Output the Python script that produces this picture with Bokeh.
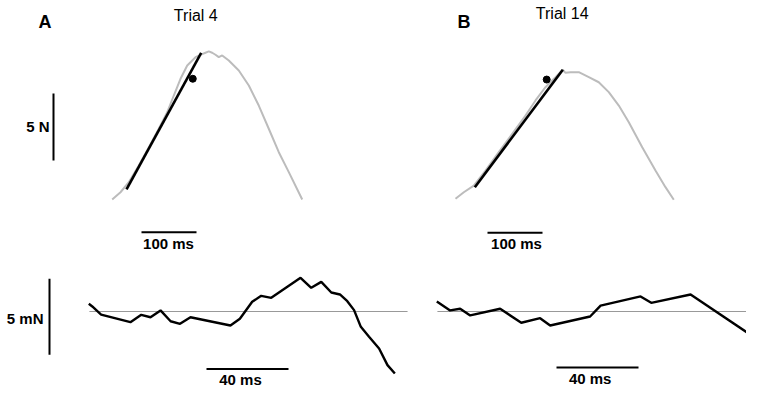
from bokeh.plotting import figure
from bokeh.models import Range1d
from bokeh.embed import file_html
from bokeh.resources import INLINE
from bokeh.core.properties import value

# ---------------- data ----------------
# Top panels: force (N) vs time (ms)
forceA_t = [0, 15.1, 30.2, 48.4, 66.5, 84.7, 100, 112, 124.2, 136.4, 151.5, 163.6, 169.6, 175.6, 181.8, 187.8,
            193.8, 200, 212, 230.2, 248.4, 266.5, 284.7, 302.9, 321.1, 345.5]
forceA_N = [0.15, 0.69, 1.44, 2.69, 4.04, 5.43, 6.66, 7.91, 9.16, 10.15, 10.77, 11.0, 11.1, 11.2, 11.1, 10.95,
            10.77, 10.9, 10.52, 9.78, 8.66, 7.16, 5.43, 3.68, 2.19, 0.15]
fitA_t = [26, 161.8]
fitA_N = [0.9, 11.1]
dotA_t = [146.5]
dotA_N = [9.16]

forceB_t = [0, 15.1, 33.3, 54.5, 78.7, 103.1, 127.3, 145.5, 163.6, 181.8, 195.1, 200, 209.1, 224.2, 242.4,
            260.5, 278.7, 296.9, 315.1, 339.5, 363.6, 381.8, 396.9]
forceB_N = [0.2, 0.69, 1.19, 2.31, 3.68, 5.05, 6.42, 7.54, 8.53, 9.28, 9.83, 9.6, 9.65, 9.65, 9.28,
            8.90, 8.16, 7.16, 5.92, 4.05, 2.31, 1.07, 0.13]
fitB_t = [35.1, 195.1]
fitB_N = [1.07, 9.83]
dotB_t = [165.8]
dotB_N = [9.1]

# Bottom panels: force deviation (mN) vs time (ms)
devA_t = [0, 1.7, 6.0, 20.3, 25.6, 30.1, 35.0, 39.9, 44.5, 49.6, 69.1, 73.7, 79.7, 84.1, 89.0, 103.3,
          108.5, 113.4, 118.3, 122.5, 126.1, 129.4, 132.7, 136.7, 141.6, 145.7, 149.3]
devA_mN = [0.51, 0.33, -0.20, -0.70, -0.22, -0.38, 0.07, -0.64, -0.81, -0.38, -0.92, -0.48, 0.64, 1.03,
           0.90, 2.22, 1.56, 1.95, 1.25, 1.12, 0.68, 0.09, -1.01, -1.66, -2.43, -3.53, -4.08]
devB_t = [0, 6.5, 11.4, 16.3, 30.9, 41.2, 50.4, 55.3, 74.8, 79.9, 99.4, 104.6, 123.8, 155.5]
devB_mN = [0.66, 0.07, 0.18, -0.26, 0.18, -0.74, -0.44, -0.92, -0.33, 0.39, 0.99, 0.57, 1.12, -1.76]
baseA_t = [0.3, 155.5]
baseB_t = [0.3, 155.5]

# scale bars
bar_force_N = 5
bar_time_top_ms = 100
bar_dev_mN = 5
bar_time_bot_ms = 40

panel_labels = ["A", "B"]
trial_titles = ["Trial 4", "Trial 14"]

# ---------------- layout (pixels) ----------------
TOP_MS = 0.55      # px per ms, top row
TOP_N = 13.4       # px per N
BOT_MS = 2.05      # px per ms, bottom row
BOT_MN = 15.2      # px per mN
TOP_Y0 = 201
BOT_Y0 = 311

def tx(t, x0, s):
    return [x0 + v * s for v in t]

def ty(f, y0, s):
    return [y0 - v * s for v in f]

p = figure(width=746, height=387, x_range=Range1d(0, 746), y_range=Range1d(387, 0),
           output_backend="svg", toolbar_location=None, min_border=0)
p.xaxis.visible = False
p.yaxis.visible = False
p.grid.visible = False
p.outline_line_color = None
p.background_fill_color = "white"

GRAY = "#bcbcbc"
# top A
p.line(tx(forceA_t, 111.7, TOP_MS), ty(forceA_N, TOP_Y0, TOP_N), line_color=GRAY, line_width=2)
p.line(tx(fitA_t, 111.7, TOP_MS), ty(fitA_N, TOP_Y0, TOP_N), line_color="black", line_width=2.6)
p.scatter(tx(dotA_t, 111.7, TOP_MS), ty(dotA_N, TOP_Y0, TOP_N), size=7, color="black")
# top B
p.line(tx(forceB_t, 455, TOP_MS), ty(forceB_N, TOP_Y0, TOP_N), line_color=GRAY, line_width=2)
p.line(tx(fitB_t, 455, TOP_MS), ty(fitB_N, TOP_Y0, TOP_N), line_color="black", line_width=2.6)
p.scatter(tx(dotB_t, 455, TOP_MS), ty(dotB_N, TOP_Y0, TOP_N), size=7, color="black")

# bottom baselines
p.line(tx(baseA_t, 88.3, BOT_MS), [BOT_Y0, BOT_Y0], line_color="#999999", line_width=1)
p.line(tx(baseB_t, 436.3, BOT_MS), [BOT_Y0, BOT_Y0], line_color="#999999", line_width=1)
# bottom traces
p.line(tx(devA_t, 88.3, BOT_MS), ty(devA_mN, BOT_Y0, BOT_MN), line_color="black", line_width=2.4)
p.line(tx(devB_t, 436.3, BOT_MS), ty(devB_mN, BOT_Y0, BOT_MN), line_color="black", line_width=2.4)

# scale bars
p.line([53, 53], [160, 160 - bar_force_N * TOP_N], line_color="black", line_width=2)
p.line([141, 141 + bar_time_top_ms * TOP_MS], [231.7, 231.7], line_color="black", line_width=2)
p.line([487, 487 + bar_time_top_ms * TOP_MS], [232.3, 232.3], line_color="black", line_width=2)
p.line([49, 49], [354.3, 354.3 - bar_dev_mN * BOT_MN], line_color="black", line_width=2)
p.line([206, 206 + bar_time_bot_ms * BOT_MS], [368.5, 368.5], line_color="black", line_width=2)
p.line([556, 556 + bar_time_bot_ms * BOT_MS], [367, 367], line_color="black", line_width=2)

FONT = value("Liberation Sans")
def txt(x, y, s, size, bold=True, align="center"):
    p.text(x=[x], y=[y], text=[s], text_font=FONT, text_font_size=size,
           text_font_style="bold" if bold else "normal", text_align=align,
           text_baseline="middle", text_color="black")

txt(38, 21.5, panel_labels[0], "18px", True, "left")
txt(457, 21.3, panel_labels[1], "18px", True, "left")
txt(195.3, 15, trial_titles[0], "16px", False, "center")
txt(561.7, 12.8, trial_titles[1], "16px", False, "center")
txt(49, 126.2, f"{bar_force_N} N", "15px", True, "right")
txt(43, 318.3, f"{bar_dev_mN} mN", "15px", True, "right")
txt(168, 243.3, f"{bar_time_top_ms} ms", "15px", True, "center")
txt(516, 243.3, f"{bar_time_top_ms} ms", "15px", True, "center")
txt(240, 378.6, f"{bar_time_bot_ms} ms", "15px", True, "center")
txt(589.7, 378.0, f"{bar_time_bot_ms} ms", "15px", True, "center")

open("out.html", "w").write(file_html(p, INLINE))
